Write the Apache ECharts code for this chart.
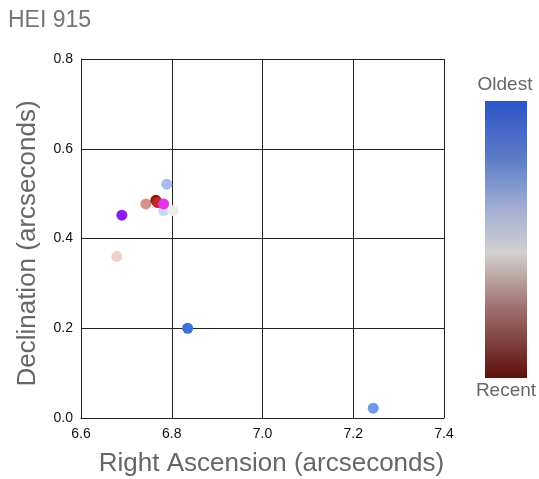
<!DOCTYPE html>
<html>
<head>
<meta charset="utf-8">
<script src="https://cdn.jsdelivr.net/npm/echarts@6/dist/echarts.min.js"></script>
<style>
  html, body { margin: 0; padding: 0; background: #fff; }
  #chart { width: 539px; height: 479px; }
</style>
</head>
<body>
<div id="chart"></div>
<script>
// Relative positions of HEI 915 (arcseconds), oldest measurements first
const rightAscension = [7.244, 6.835, 6.789, 6.782, 6.803, 6.679, 6.743, 6.765, 6.769, 6.690, 6.782];
const declination    = [0.022, 0.200, 0.521, 0.462, 0.462, 0.360, 0.477, 0.485, 0.480, 0.452, 0.477];
const pointColors    = ['#6f97e6', '#3f6fd8', '#a6bdee', '#cbd8f3', '#ececec', '#efd0cd',
                        '#d8908d', '#8e1414', '#c02a22', '#8a1ef2', '#e832ea'];

const xTicks = [6.6, 7.4, 0.2];  // min, max, step
const yTicks = [0.0, 0.8, 0.2];
const colorbarLabels = ['Oldest', 'Recent'];

const points = rightAscension.map((x, i) => ({
  value: [x, declination[i]],
  itemStyle: { color: pointColors[i], opacity: 1 }
}));

const chart = echarts.init(document.getElementById('chart'), null, { renderer: 'canvas' });
const font = 'Liberation Sans, Arial, sans-serif';

chart.setOption({
  animation: false,
  backgroundColor: '#fff',
  textStyle: { fontFamily: font },
  title: {
    text: 'HEI 915',
    left: 3, top: 4,
    textStyle: { fontSize: 23, fontWeight: 'normal', color: '#757575', fontFamily: font }
  },
  grid: { left: 81, right: 95, top: 59, bottom: 61, containLabel: false, outerBoundsMode: 'none' },
  xAxis: {
    type: 'value',
    min: xTicks[0], max: xTicks[1], interval: xTicks[2],
    name: 'Right Ascension (arcseconds)',
    nameLocation: 'middle', nameGap: 33,
    nameTextStyle: { fontSize: 26, color: '#666', fontFamily: font, padding: [0, 0, 0, 18] },
    axisLine: { show: true, lineStyle: { color: '#222', width: 1 } },
    axisTick: { show: false },
    axisLabel: { color: '#111', fontSize: 14, margin: 9, fontFamily: font,
                 formatter: v => v.toFixed(1) },
    splitLine: { show: true, lineStyle: { color: '#222', width: 1 } }
  },
  yAxis: {
    type: 'value',
    min: yTicks[0], max: yTicks[1], interval: yTicks[2],
    name: 'Declination (arcseconds)',
    nameLocation: 'middle', nameGap: 40,
    nameTextStyle: { fontSize: 26, color: '#666', fontFamily: font, padding: [0, 10, 0, 0] },
    axisLine: { show: true, lineStyle: { color: '#222', width: 1 } },
    axisTick: { show: false },
    axisLabel: { color: '#111', fontSize: 14, margin: 8, fontFamily: font,
                 formatter: v => v.toFixed(1) },
    splitLine: { show: true, lineStyle: { color: '#222', width: 1 } }
  },
  series: [{
    type: 'scatter',
    symbol: 'circle',
    symbolSize: 11,
    data: points
  }],
  graphic: [
    {
      type: 'rect',
      shape: { x: 485, y: 101, width: 42, height: 277 },
      style: {
        fill: new echarts.graphic.LinearGradient(0, 0, 0, 1, [
          { offset: 0, color: '#2c55c6' },
          { offset: 0.2, color: '#5a7ac8' },
          { offset: 0.4, color: '#a4b1d3' },
          { offset: 0.55, color: '#d2d0cf' },
          { offset: 0.75, color: '#9e6e6c' },
          { offset: 1, color: '#5c0f0c' }
        ])
      }
    },
    {
      type: 'text', x: 505, y: 85,
      style: { text: colorbarLabels[0], fill: '#666', fontSize: 19, fontFamily: font,
               align: 'center', verticalAlign: 'middle' }
    },
    {
      type: 'text', x: 506, y: 391,
      style: { text: colorbarLabels[1], fill: '#666', fontSize: 19, fontFamily: font,
               align: 'center', verticalAlign: 'middle' }
    }
  ]
});
</script>
</body>
</html>
